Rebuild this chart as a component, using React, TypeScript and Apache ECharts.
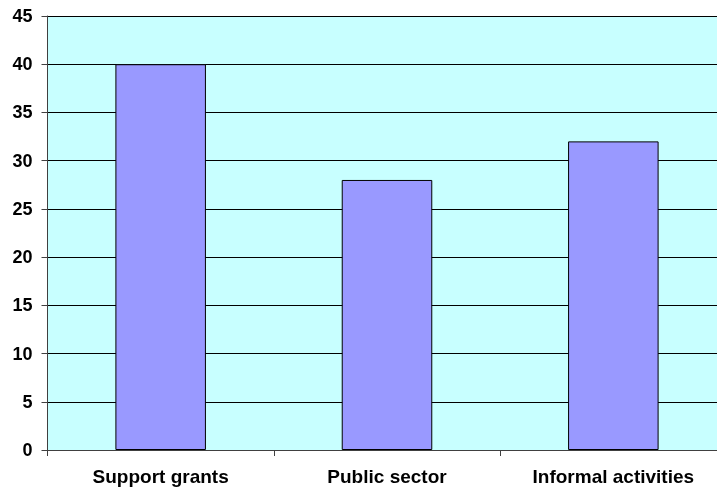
import React, { useEffect, useRef } from "react";
import * as echarts from "echarts";

const categories = ["Support grants", "Public sector", "Informal activities"];
const values = [40, 28, 32];

export default function App() {
  const ref = useRef<HTMLDivElement>(null);
  useEffect(() => {
    if (!ref.current) return;
    const chart = echarts.init(ref.current, null, { renderer: "svg" });
    chart.setOption({
      animation: false,
      grid: { left: 47.5, top: 16, width: 679, bottom: 40, show: true, backgroundColor: "#C8FFFF", borderWidth: 0, outerBoundsMode: "none", containLabel: false },
      xAxis: {
        type: "category",
        data: categories,
        axisLine: { show: true, lineStyle: { color: "#404040", width: 1 } },
        axisTick: { show: true, length: 6, lineStyle: { color: "#404040" } },
        axisLabel: { color: "#000", fontSize: 19, fontWeight: "bold", fontFamily: "Liberation Sans, Arial, sans-serif", margin: 17 },
      },
      yAxis: {
        type: "value",
        min: 0,
        max: 45,
        interval: 5,
        axisLine: { show: true, lineStyle: { color: "#404040", width: 1 } },
        axisTick: { show: true, length: 6, lineStyle: { color: "#404040" } },
        axisLabel: { color: "#000", fontSize: 18, fontWeight: "bold", fontFamily: "Liberation Sans, Arial, sans-serif", margin: 15 },
        splitLine: { show: true, lineStyle: { color: "#000", width: 1 } },
      },
      series: [
        {
          type: "bar",
          data: values,
          barWidth: "40%",
          itemStyle: { color: "#9999FF", borderColor: "#000", borderWidth: 1 },
        },
      ],
    });
    return () => chart.dispose();
  }, []);
  return <div ref={ref} style={{ position: "fixed", left: 0, top: 0, width: 717, height: 490, overflow: "hidden" }} />;
}
